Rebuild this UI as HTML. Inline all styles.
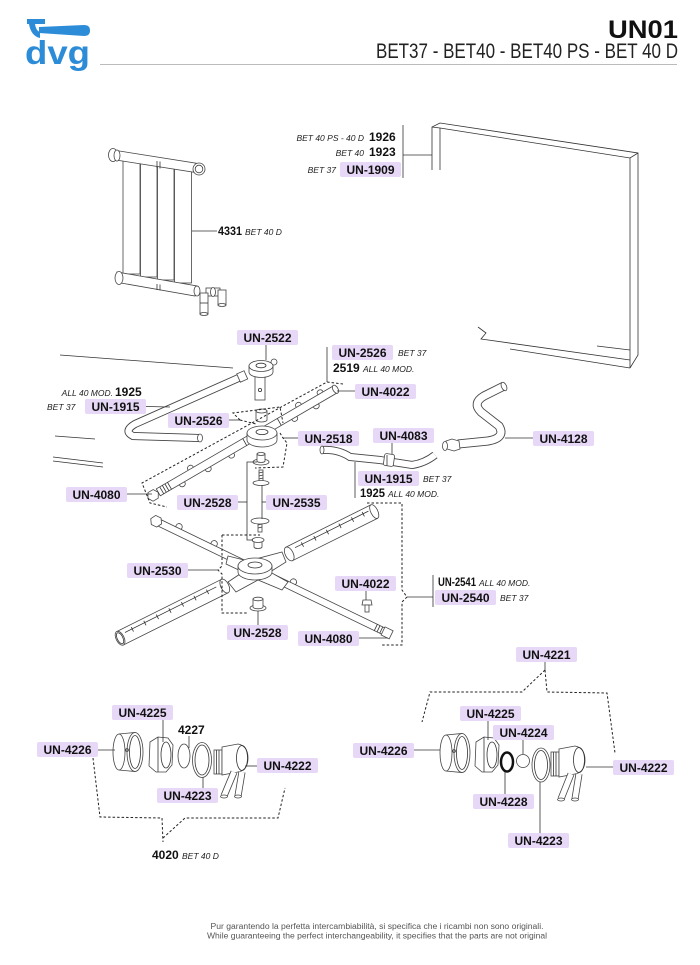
<!DOCTYPE html>
<html><head><meta charset="utf-8"><style>
html,body{margin:0;padding:0;background:#fff}
svg{display:block}
.l{stroke:#333;stroke-width:.8;fill:none}
.d{stroke:#222;stroke-width:1;fill:none;stroke-dasharray:2.5 2}
.p{stroke:#444;stroke-width:.8;fill:#fff}
.b{font:bold 12px "Liberation Sans",Arial,sans-serif;fill:#111}
.i{font:italic 8.5px "Liberation Sans",Arial,sans-serif;fill:#222}
.bx{fill:#e6d8f6}
.f{font:8px "Liberation Sans",Arial,sans-serif;fill:#555}
</style></head><body>
<svg width="700" height="965" viewBox="0 0 700 965" xmlns="http://www.w3.org/2000/svg">
<!-- HEADER -->
<g fill="#2d8cd8">
<rect x="27" y="19" width="18" height="5"/>
<path d="M29,24 L35,24 Q36,31 40,32 L40,38 Q31,36 29,24 Z"/>
<path d="M39,27 L84,25 Q90,25 90,30.5 Q90,36 84,36 L39,33 Z"/>
<text x="25" y="64" font-family="Liberation Sans,Arial,sans-serif" font-weight="bold" font-size="33" textLength="65" lengthAdjust="spacingAndGlyphs">dvg</text>
</g>
<text x="608" y="38" font-family="Liberation Sans,Arial,sans-serif" font-weight="bold" font-size="25" fill="#111" textLength="70" lengthAdjust="spacingAndGlyphs">UN01</text>
<text x="376" y="58" font-family="Liberation Sans,Arial,sans-serif" font-size="21" fill="#222" textLength="302" lengthAdjust="spacingAndGlyphs">BET37 - BET40 - BET40 PS - BET 40 D</text>
<line x1="100" y1="64.5" x2="677" y2="64.5" stroke="#bbb" stroke-width="1"/>

<!-- DOOR -->
<g class="l" stroke-width=".9">
<polyline points="432,170 432,127 440,123 638,153 638,355 630,368"/>
<polyline points="432,127 440,128 630,158 638,153"/>
<line x1="440" y1="128" x2="440" y2="170"/>
<line x1="630" y1="158" x2="630" y2="368"/>
<polyline points="478,327 486,333 481,339 630,360"/>
<line x1="510" y1="349" x2="630" y2="368"/>
<line x1="597" y1="346" x2="630" y2="350"/>
</g>
<!-- door labels -->
<line class="l" x1="403" y1="125" x2="403" y2="178"/>
<line class="l" x1="403" y1="155" x2="432" y2="155"/>
<text class="i" x="364" y="141" text-anchor="end">BET 40 PS - 40 D</text>
<text class="b" x="369" y="141">1926</text>
<text class="i" x="364" y="156" text-anchor="end">BET 40</text>
<text class="b" x="369" y="156">1923</text>
<text class="i" x="336" y="173" text-anchor="end">BET 37</text>
<rect class="bx" x="340" y="162" width="61" height="15" rx="2"/><text class="b" x="370.5" y="173.8" text-anchor="middle">UN-1909</text>

<!-- RADIATOR -->
<g class="p">
<rect x="123" y="160" width="17" height="114"/>
<rect x="140.5" y="163" width="16.5" height="114"/>
<rect x="157.5" y="166" width="16.5" height="114"/>
<rect x="174.5" y="169" width="17" height="114"/>
<path d="M113,150 L201,164 L199,173 L116,160 Z"/>
<ellipse cx="113" cy="155" rx="4.5" ry="6.5"/>
<ellipse cx="117" cy="155.5" rx="3" ry="5.5"/>
<circle cx="199" cy="169" r="6"/>
<circle cx="199" cy="169" r="3.8"/>
<path d="M117,272 L197,286 L195,296 L121,283 Z"/>
<ellipse cx="119" cy="278" rx="4" ry="6.5"/>
<rect x="206" y="288" width="14" height="8"/>
<rect x="218" y="290" width="8" height="15"/>
<ellipse cx="222" cy="305" rx="4" ry="1.5"/>
<rect x="200" y="293" width="8" height="21"/>
<ellipse cx="204" cy="314" rx="4" ry="1.5"/>
<ellipse cx="197" cy="291" rx="3" ry="5"/>
<ellipse cx="213" cy="292" rx="2.5" ry="4.5"/>
</g>
<g class="l">
<line x1="157" y1="161" x2="157" y2="168"/><line x1="160" y1="161.5" x2="160" y2="168.5"/>
<line x1="157" y1="284" x2="157" y2="290"/><line x1="160" y1="284.5" x2="160" y2="290.5"/>
<line x1="200" y1="303" x2="208" y2="303"/>
</g>
<line class="l" x1="192" y1="231" x2="217" y2="231"/>
<text class="b" x="218" y="235" textLength="24" lengthAdjust="spacingAndGlyphs">4331</text>
<text class="i" x="245" y="235">BET 40 D</text>

<!-- TRAY REMNANT LINES -->
<g class="l">
<line x1="60" y1="355" x2="233" y2="368"/>
<line x1="55" y1="436" x2="95" y2="439"/>
<line x1="53" y1="457" x2="103" y2="463"/>
<line x1="53" y1="461" x2="103" y2="467"/>
</g>

<!-- UPPER LEFT TUBE UN-1915 -->
<path d="M243,376 L135,424 Q123,431 133,436 L199,438" fill="none" stroke="#444" stroke-width="8"/>
<path d="M243,376 L135,424 Q123,431 133,436 L199,438" fill="none" stroke="#fff" stroke-width="6.2"/>
<ellipse class="p" cx="200" cy="438" rx="2.5" ry="4"/>
<!-- UN-2522 part -->
<rect class="p" x="255" y="372" width="10" height="28"/>
<circle class="l" cx="260" cy="390" r="1.6"/>
<circle class="p" cx="274" cy="362" r="3"/>
<path class="p" d="M249,366 V372 A12,5.5 0 0 0 273,372 V366 Z"/>
<ellipse class="p" cx="261" cy="366" rx="12" ry="5.5"/>
<ellipse class="l" cx="261" cy="365.5" rx="5" ry="2.3"/>
<rect class="p" x="238" y="372" width="8" height="9" transform="rotate(-24 242 376)"/>

<!-- UPPER MANIFOLD -->
<g transform="translate(262,432) rotate(-30.2)">
<g class="p">
<ellipse cx="-95" cy="5" rx="3" ry="2.6"/><ellipse cx="-65" cy="5" rx="3" ry="2.6"/><ellipse cx="-38" cy="5" rx="3" ry="2.6"/>
<ellipse cx="35" cy="5" rx="3" ry="2.6"/><ellipse cx="60" cy="5" rx="3" ry="2.6"/>
<ellipse cx="-80" cy="-5" rx="3" ry="2.6"/><ellipse cx="45" cy="-5" rx="3" ry="2.6"/><ellipse cx="70" cy="-5" rx="3" ry="2.6"/>
<rect x="-120" y="-4" width="205" height="8"/>
<ellipse cx="85" cy="0" rx="2.5" ry="4.5"/>
<polygon points="-120,0 -123,-5 -129,-5 -132,0 -129,5 -123,5"/>
</g>
<g class="l"><line x1="-116" y1="-4" x2="-116" y2="4"/><line x1="-113" y1="-4" x2="-113" y2="4"/><line x1="-110" y1="-4" x2="-110" y2="4"/><line x1="-107" y1="-4" x2="-107" y2="4"/>
<line x1="-20" y1="-4" x2="-20" y2="4"/><line x1="20" y1="-4" x2="20" y2="4"/></g>
</g>
<path class="p" d="M247,433 V440 A15,7 0 0 0 277,440 V433 Z"/>
<ellipse class="p" cx="262" cy="433" rx="15" ry="7"/>
<ellipse class="l" cx="262" cy="432" rx="6" ry="2.6"/>
<!-- cap UN-2526 -->
<path class="p" d="M256,411 V420 A5.5,2 0 0 0 267,420 V411 Z"/>
<ellipse class="p" cx="261.5" cy="411" rx="5.5" ry="2"/>
<!-- cap UN-2528 top -->
<ellipse class="p" cx="261" cy="462" rx="8" ry="3"/>
<path class="p" d="M257,454 V461 A4,1.5 0 0 0 265,461 V454 Z"/>
<ellipse class="p" cx="261" cy="454" rx="4" ry="1.5"/>
<!-- screws -->
<rect class="p" x="259" y="470" width="4" height="12"/>
<g class="l"><line x1="259" y1="473" x2="263" y2="472"/><line x1="259" y1="476" x2="263" y2="475"/><line x1="259" y1="479" x2="263" y2="478"/></g>
<ellipse class="p" cx="261" cy="483" rx="8" ry="2.5"/>
<rect class="p" x="258" y="522" width="4" height="10"/>
<g class="l"><line x1="258" y1="525" x2="262" y2="524"/><line x1="258" y1="528" x2="262" y2="527"/></g>
<ellipse class="p" cx="260" cy="521" rx="9" ry="3"/>
<!-- cap middle -->
<path class="p" d="M254,540 V547 A4,1.5 0 0 0 262,547 V540 Z"/>
<ellipse class="p" cx="258" cy="540" rx="6" ry="2.5"/>

<!-- upper labels & leaders -->
<rect class="bx" x="237" y="330" width="61" height="15" rx="2"/><text class="b" x="267.5" y="341.8" text-anchor="middle">UN-2522</text>
<line class="l" x1="266" y1="345" x2="266" y2="360"/>
<rect class="bx" x="332" y="345" width="61" height="15" rx="2"/><text class="b" x="362.5" y="356.8" text-anchor="middle">UN-2526</text>
<text class="i" x="398" y="356">BET 37</text>
<text class="b" x="333" y="372">2519</text>
<text class="i" x="363" y="372">ALL 40 MOD.</text>
<line class="l" x1="327" y1="347" x2="327" y2="382"/>
<polyline class="d" points="343,384 327,382 142,483 150,503 167,507"/>
<rect class="bx" x="355" y="384" width="61" height="15" rx="2"/><text class="b" x="385.5" y="395.8" text-anchor="middle">UN-4022</text>
<line class="l" x1="337" y1="391" x2="355" y2="391"/>
<text class="i" x="113" y="396" text-anchor="end">ALL 40 MOD.</text>
<text class="b" x="115" y="396">1925</text>
<text class="i" x="47" y="410">BET 37</text>
<rect class="bx" x="85" y="399" width="61" height="15" rx="2"/><text class="b" x="115.5" y="410.8" text-anchor="middle">UN-1915</text>
<line class="l" x1="146" y1="406.5" x2="170" y2="407"/>
<rect class="bx" x="168" y="413" width="61" height="15" rx="2"/><text class="b" x="198.5" y="424.8" text-anchor="middle">UN-2526</text>
<line class="l" x1="229" y1="420" x2="240" y2="420"/>
<polyline class="d" points="240,420 233,413 280,407 283,423"/>
<line class="d" x1="240" y1="420" x2="256" y2="424"/>
<rect class="bx" x="298" y="431" width="61" height="15" rx="2"/><text class="b" x="328.5" y="442.8" text-anchor="middle">UN-2518</text>
<line class="l" x1="283" y1="438" x2="298" y2="438"/>
<polyline class="d" points="280,433 283,438 287,443 283,467 255,468"/>
<rect class="bx" x="66" y="487" width="61" height="15" rx="2"/><text class="b" x="96.5" y="498.8" text-anchor="middle">UN-4080</text>
<line class="l" x1="127" y1="494" x2="152" y2="494"/>
<rect class="bx" x="177" y="495" width="61" height="15" rx="2"/><text class="b" x="207.5" y="506.8" text-anchor="middle">UN-2528</text>
<line class="l" x1="238" y1="502" x2="247" y2="502"/>
<polyline class="l" points="257,462 247,462 247,540 253,540"/>
<rect class="bx" x="266" y="495" width="61" height="15" rx="2"/><text class="b" x="296.5" y="506.8" text-anchor="middle">UN-2535</text>
<polyline class="l" points="266,502 262,502"/>
<line class="l" x1="262" y1="485" x2="262" y2="519"/>

<!-- RIGHT HOSES -->
<path d="M322,450 Q338,449 350,457 L380,460 L412,465 Q425,463 435,455" fill="none" stroke="#444" stroke-width="8"/>
<path d="M322,450 Q338,449 350,457 L380,460 L412,465 Q425,463 435,455" fill="none" stroke="#fff" stroke-width="6.2"/>
<ellipse class="p" cx="322" cy="450" rx="2" ry="4"/>
<rect class="p" x="384" y="454" width="10" height="12" rx="2" transform="rotate(8 389 460)"/>
<line class="l" x1="387" y1="455" x2="387" y2="466"/>
<rect class="bx" x="373" y="428" width="61" height="15" rx="2"/><text class="b" x="403.5" y="439.8" text-anchor="middle">UN-4083</text>
<line class="l" x1="392" y1="443" x2="392" y2="454"/>
<line class="l" x1="355" y1="462" x2="355" y2="498"/>
<rect class="bx" x="358" y="471" width="61" height="15" rx="2"/><text class="b" x="388.5" y="482.8" text-anchor="middle">UN-1915</text>
<text class="i" x="423" y="482">BET 37</text>
<text class="b" x="360" y="497" textLength="25" lengthAdjust="spacingAndGlyphs">1925</text>
<text class="i" x="388" y="497">ALL 40 MOD.</text>

<path d="M458,444 L488,441 Q506,438 499,426 L481,412 Q472,403 484,396 L504,386" fill="none" stroke="#444" stroke-width="9"/>
<path d="M458,444 L488,441 Q506,438 499,426 L481,412 Q472,403 484,396 L504,386" fill="none" stroke="#fff" stroke-width="7.2"/>
<ellipse class="p" cx="504" cy="386.5" rx="2.5" ry="4.5" transform="rotate(-25 504 386.5)"/>
<polygon class="p" points="446,441 452,439 459,441 460,449 454,451 447,449"/>
<ellipse class="p" cx="445" cy="446" rx="2.5" ry="4.5"/>
<rect class="bx" x="533" y="431" width="61" height="15" rx="2"/><text class="b" x="563.5" y="442.8" text-anchor="middle">UN-4128</text>
<line class="l" x1="505" y1="438" x2="533" y2="438"/>

<!-- SPRAY ARMS -->
<g transform="translate(257,570) rotate(25.8)">
<g class="p">
<circle cx="-89" cy="-5" r="3.2"/><circle cx="-50" cy="-5" r="3.2"/><circle cx="38" cy="-5" r="3.2"/>
<rect x="-108" y="-3.5" width="250" height="7"/>
<polygon points="-106,0 -109,-5 -115,-5 -118,0 -115,5 -109,5"/>
<rect x="140" y="-4.5" width="9" height="9"/>
</g>
<g class="l"><line x1="132" y1="-3.5" x2="132" y2="3.5"/><line x1="135" y1="-3.5" x2="135" y2="3.5"/><line x1="138" y1="-3.5" x2="138" y2="3.5"/></g>
</g>
<g transform="translate(257,570) rotate(-26.5)">
<g class="p">
<rect x="36" y="-7.5" width="95" height="15"/>
<ellipse cx="131" cy="0" rx="3.5" ry="7.5"/>
<ellipse cx="36" cy="0" rx="4" ry="7.5"/>
<rect x="-153" y="-7.5" width="117" height="15"/>
<ellipse cx="-153" cy="0" rx="4" ry="7.5"/>
<ellipse cx="-36" cy="0" rx="4" ry="7.5"/>
</g>
<ellipse class="l" cx="-153" cy="0" rx="2.8" ry="6"/>
<g class="l">
<line x1="44" y1="-3" x2="126" y2="-3"/>
<line x1="52" y1="-5" x2="52" y2="0"/><line x1="66" y1="-5" x2="66" y2="0"/><line x1="80" y1="-5" x2="80" y2="0"/><line x1="94" y1="-5" x2="94" y2="0"/><line x1="108" y1="-5" x2="108" y2="0"/><line x1="120" y1="-5" x2="120" y2="0"/>
<line x1="-146" y1="-3" x2="-44" y2="-3"/>
<line x1="-138" y1="-5" x2="-138" y2="0"/><line x1="-124" y1="-5" x2="-124" y2="0"/><line x1="-110" y1="-5" x2="-110" y2="0"/><line x1="-96" y1="-5" x2="-96" y2="0"/><line x1="-82" y1="-5" x2="-82" y2="0"/><line x1="-68" y1="-5" x2="-68" y2="0"/><line x1="-54" y1="-5" x2="-54" y2="0"/>
</g>
</g>
<path class="p" d="M228,556 L248,561 L282,552 L286,562 L270,572 L288,582 L282,590 L258,580 L236,592 L228,582 L243,572 L226,564 Z"/>
<path class="p" d="M238,566 V572 A17,8 0 0 0 272,572 V566 Z"/>
<ellipse class="p" cx="255" cy="566" rx="17" ry="8"/>
<ellipse class="l" cx="255" cy="565" rx="7" ry="3"/>
<!-- small parts -->
<ellipse class="p" cx="258" cy="608" rx="8" ry="3"/>
<path class="p" d="M253,599 V607 A5,1.8 0 0 0 263,607 V599 Z"/>
<ellipse class="p" cx="258" cy="599" rx="5" ry="1.8"/>
<polygon class="p" points="363,600 371,600 372,605 362,605"/>
<rect class="p" x="365" y="605" width="4" height="7"/>

<!-- arm labels -->
<polyline class="d" points="222,535 260,535"/>
<polyline class="d" points="222,535 222,566 218,570 222,574 222,613 248,613"/>
<rect class="bx" x="127" y="563" width="61" height="15" rx="2"/><text class="b" x="157.5" y="574.8" text-anchor="middle">UN-2530</text>
<line class="l" x1="188" y1="570" x2="218" y2="570"/>
<rect class="bx" x="335" y="576" width="61" height="15" rx="2"/><text class="b" x="365.5" y="587.8" text-anchor="middle">UN-4022</text>
<line class="l" x1="366" y1="591" x2="366" y2="600"/>
<rect class="bx" x="227" y="625" width="61" height="15" rx="2"/><text class="b" x="257.5" y="636.8" text-anchor="middle">UN-2528</text>
<line class="l" x1="258" y1="611" x2="258" y2="625"/>
<rect class="bx" x="298" y="631" width="61" height="15" rx="2"/><text class="b" x="328.5" y="642.8" text-anchor="middle">UN-4080</text>
<line class="l" x1="359" y1="638" x2="388" y2="638"/>
<polyline class="d" points="367,503 402,503 402,590 407,597 402,602 402,645 382,645"/>
<line class="l" x1="407" y1="597" x2="433" y2="597"/>
<line class="l" x1="433" y1="575" x2="433" y2="607"/>
<text class="b" x="438" y="586" textLength="38" lengthAdjust="spacingAndGlyphs">UN-2541</text>
<text class="i" x="479" y="586">ALL 40 MOD.</text>
<rect class="bx" x="435" y="590" width="61" height="15" rx="2"/><text class="b" x="465.5" y="601.8" text-anchor="middle">UN-2540</text>
<text class="i" x="500" y="601">BET 37</text>

<!-- BOTTOM LEFT ASSEMBLY -->
<g class="p">
<path d="M119,734 L135,732.5 L135,771.5 L119,770 Z"/>
<ellipse cx="119" cy="752" rx="6" ry="18"/>
<ellipse cx="135" cy="752" rx="8" ry="19.5"/>
<polygon points="150,742 158,737 168,738 173,745 172,765 166,772 156,772 149,766"/>
<ellipse cx="184" cy="756" rx="6" ry="12"/>
<ellipse cx="202" cy="760" rx="9.5" ry="17.5"/>
<rect x="214" y="750" width="8" height="24"/>
<path d="M222,747 L238,744 Q248,746 248,758 Q248,770 238,772 L222,775 Z"/>
</g>
<g class="l">
<ellipse cx="135" cy="752" rx="5.5" ry="16.5"/>
<circle cx="127" cy="750" r="1.4"/>
<line x1="158" y1="737" x2="158" y2="772"/>
<ellipse cx="166" cy="755" rx="5" ry="13"/>
<ellipse cx="202" cy="760" rx="7" ry="15"/>
<line x1="216.5" y1="750" x2="216.5" y2="774"/><line x1="219" y1="750" x2="219" y2="774"/>
<ellipse cx="242" cy="758" rx="5.5" ry="12.5"/>
</g>
<path d="M234,772 L224,796 M242,772 L238,796" fill="none" stroke="#444" stroke-width="7"/>
<path d="M234,772 L224,796 M242,772 L238,796" fill="none" stroke="#fff" stroke-width="5.4"/>
<ellipse class="p" cx="224" cy="796.5" rx="3.5" ry="1.5"/><ellipse class="p" cx="238" cy="796.5" rx="3.5" ry="1.5"/>
<rect class="bx" x="112" y="705" width="61" height="15" rx="2"/><text class="b" x="142.5" y="716.8" text-anchor="middle">UN-4225</text>
<line class="l" x1="163" y1="720" x2="163" y2="742"/>
<text class="b" x="178" y="734">4227</text>
<line class="l" x1="189" y1="736" x2="189" y2="748"/>
<rect class="bx" x="37" y="742" width="61" height="15" rx="2"/><text class="b" x="67.5" y="753.8" text-anchor="middle">UN-4226</text>
<line class="l" x1="98" y1="750" x2="115" y2="750"/>
<rect class="bx" x="257" y="758" width="61" height="15" rx="2"/><text class="b" x="287.5" y="769.8" text-anchor="middle">UN-4222</text>
<line class="l" x1="245" y1="766" x2="257" y2="766"/>
<rect class="bx" x="157" y="788" width="61" height="15" rx="2"/><text class="b" x="187.5" y="799.8" text-anchor="middle">UN-4223</text>
<line class="l" x1="203" y1="777" x2="203" y2="788"/>
<polyline class="d" points="93,758 100,817 162,818 163,842"/>
<polyline class="d" points="163,838 185,818 278,818 285,788"/>
<text class="b" x="152" y="859">4020</text>
<text class="i" x="182" y="859">BET 40 D</text>

<!-- BOTTOM RIGHT ASSEMBLY -->
<g class="p">
<path d="M446,735 L462,733.5 L462,772.5 L446,771 Z"/>
<ellipse cx="446" cy="753" rx="6" ry="18"/>
<ellipse cx="462" cy="753" rx="8" ry="19.5"/>
<polygon points="476,742 484,737 494,738 499,745 498,765 492,772 482,772 475,766"/>
<circle cx="523" cy="761" r="6.5"/>
<ellipse cx="541" cy="765" rx="9" ry="17"/>
<rect x="551" y="752" width="8" height="24"/>
<path d="M559,749 L575,746 Q585,748 585,760 Q585,772 575,774 L559,777 Z"/>
</g>
<ellipse cx="507" cy="762" rx="6" ry="9.5" fill="none" stroke="#111" stroke-width="2.5"/>
<g class="l">
<ellipse cx="462" cy="753" rx="5.5" ry="16.5"/>
<circle cx="454" cy="751" r="1.4"/>
<line x1="484" y1="737" x2="484" y2="772"/>
<ellipse cx="492" cy="755" rx="5" ry="13"/>
<ellipse cx="541" cy="765" rx="6.5" ry="14.5"/>
<line x1="553.5" y1="752" x2="553.5" y2="776"/><line x1="556" y1="752" x2="556" y2="776"/>
<ellipse cx="579" cy="760" rx="5.5" ry="12.5"/>
</g>
<path d="M571,774 L561,799 M579,774 L575,799" fill="none" stroke="#444" stroke-width="7"/>
<path d="M571,774 L561,799 M579,774 L575,799" fill="none" stroke="#fff" stroke-width="5.4"/>
<ellipse class="p" cx="561" cy="799.5" rx="3.5" ry="1.5"/><ellipse class="p" cx="575" cy="799.5" rx="3.5" ry="1.5"/>
<rect class="bx" x="516" y="647" width="61" height="15" rx="2"/><text class="b" x="546.5" y="658.8" text-anchor="middle">UN-4221</text>
<line class="l" x1="545" y1="662" x2="545" y2="670"/>
<polyline class="d" points="545,670 522,692 430,692 422,722"/>
<polyline class="d" points="545,670 547,692 607,693 615,753"/>
<rect class="bx" x="460" y="706" width="61" height="15" rx="2"/><text class="b" x="490.5" y="717.8" text-anchor="middle">UN-4225</text>
<line class="l" x1="488" y1="721" x2="488" y2="740"/>
<rect class="bx" x="493" y="725" width="61" height="15" rx="2"/><text class="b" x="523.5" y="736.8" text-anchor="middle">UN-4224</text>
<line class="l" x1="523" y1="740" x2="523" y2="754"/>
<rect class="bx" x="353" y="743" width="61" height="15" rx="2"/><text class="b" x="383.5" y="754.8" text-anchor="middle">UN-4226</text>
<line class="l" x1="414" y1="750" x2="440" y2="750"/>
<rect class="bx" x="613" y="760" width="61" height="15" rx="2"/><text class="b" x="643.5" y="771.8" text-anchor="middle">UN-4222</text>
<line class="l" x1="586" y1="767" x2="613" y2="767"/>
<rect class="bx" x="473" y="794" width="61" height="15" rx="2"/><text class="b" x="503.5" y="805.8" text-anchor="middle">UN-4228</text>
<line class="l" x1="505" y1="772" x2="505" y2="794"/>
<rect class="bx" x="508" y="833" width="61" height="15" rx="2"/><text class="b" x="538.5" y="844.8" text-anchor="middle">UN-4223</text>
<line class="l" x1="540" y1="782" x2="540" y2="833"/>

<!-- FOOTER -->
<text class="f" x="377" y="929" text-anchor="middle" textLength="333" lengthAdjust="spacingAndGlyphs">Pur garantendo la perfetta intercambiabilità, si specifica che i ricambi non sono originali.</text>
<text class="f" x="377" y="938.5" text-anchor="middle" textLength="340" lengthAdjust="spacingAndGlyphs">While guaranteeing the perfect interchangeability, it specifies that the parts are not original</text>
</svg>
</body></html>
